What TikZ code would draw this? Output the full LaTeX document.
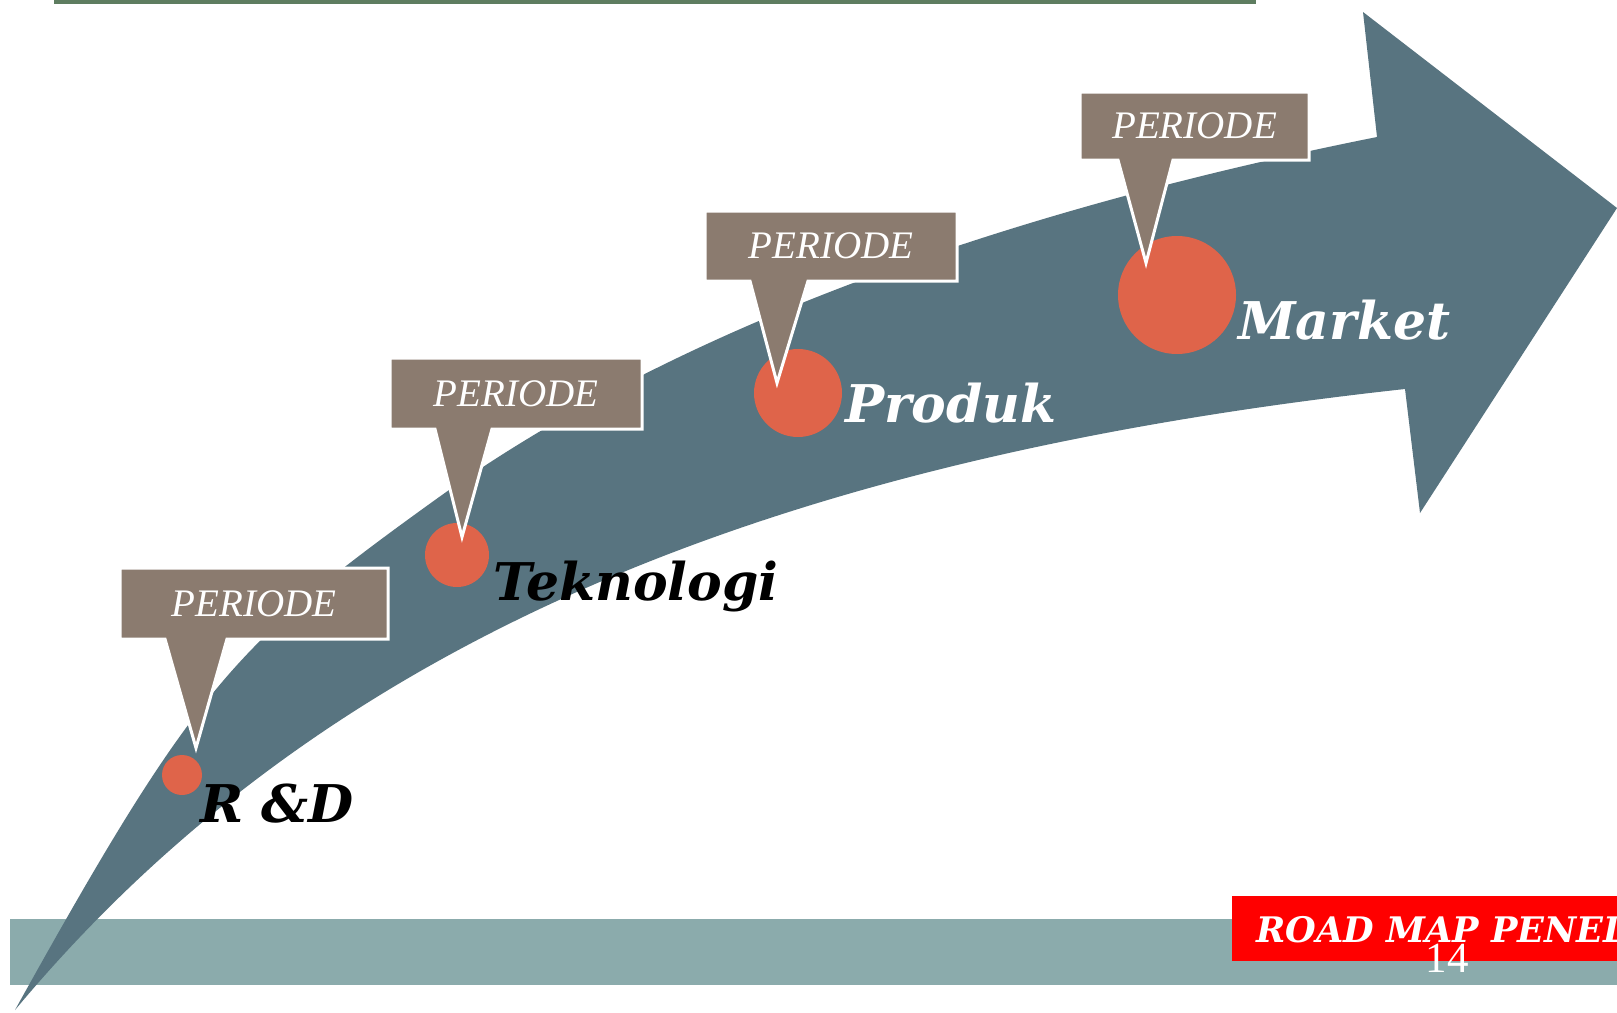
\documentclass[tikz,border=0pt]{standalone}
\usepackage{fontspec}
\setmainfont{Liberation Serif}
\newfontfamily\stagefont{DejaVu Serif}
\usepackage{xcolor}
\usepackage{tikz}

\definecolor{arrowblue}{RGB}{88,116,128}
\definecolor{periodbrown}{RGB}{139,123,111}
\definecolor{dotred}{RGB}{223,100,74}
\definecolor{bandgrey}{RGB}{139,171,172}
\definecolor{topgreen}{RGB}{94,125,96}

\tikzset{
	periodbox/.style={fill=periodbrown, draw=white, line width=1.5pt, line join=miter},
	periodtext/.style={text=white, inner sep=0pt, font=\fontsize{19.5}{22}\selectfont\itshape},
	stagedot/.style={circle, fill=dotred, inner sep=0pt},
	stagelabel/.style={anchor=base west, inner sep=0pt, font=\stagefont\bfseries\itshape\fontsize{26}{30}\selectfont},
}

\begin{document}
\begin{tikzpicture}[x=0.5pt,y=-0.5pt]
	\useasboundingbox (0,0) rectangle (1617,1012);
	\fill[white] (0,0) rectangle (1617,1012);
	
	% top rule and bottom band
	\fill[topgreen] (54,0) rectangle (1256,4);
	\fill[bandgrey] (10,919) rectangle (1617,985);
	
	% curved arrow
	\fill[arrowblue] (15,1010) .. controls (195,686) and (235,644) .. (435,500)
		.. controls (685,320) and (1027,207) .. (1377,137)
		-- (1363,12) -- (1617,208) -- (1420,513) -- (1405,389)
		.. controls (755,460) and (315,650) .. (15,1010) -- cycle;
	
	% stages
	\node[stagedot, minimum size=20pt] (dotrd) at (182,775) {};
	\node[stagedot, minimum size=32pt] (dottek) at (457,555) {};
	\node[stagedot, minimum size=44pt] (dotprod) at (798,393) {};
	\node[stagedot, minimum size=59pt] (dotmkt) at (1177,295) {};
	
	% callouts
	\draw[periodbox] (120,568) -- (388,568) -- (388,639) -- (227,639) -- (196,748) -- (165,639) -- (120,639) -- cycle;
	\node[periodtext] (perrd) at (254,603.5) {PERIODE};
	\draw[periodbox] (390,358) -- (642,358) -- (642,429) -- (492,429) -- (462,537) -- (435,429) -- (390,429) -- cycle;
	\node[periodtext] (pertek) at (516,393.5) {PERIODE};
	\draw[periodbox] (705,211) -- (957,211) -- (957,281) -- (808,281) -- (777,383) -- (750,281) -- (705,281) -- cycle;
	\node[periodtext] (perprod) at (831,246) {PERIODE};
	\draw[periodbox] (1080,92) -- (1309,92) -- (1309,160) -- (1173,160) -- (1146,263) -- (1118,160) -- (1080,160) -- cycle;
	\node[periodtext] (permkt) at (1194.5,126) {PERIODE};
	
	\node[stagelabel] (rd) at (200,822) {R \&D};
	\node[stagelabel] (tek) at (493,600) {Teknologi};
	\node[stagelabel, text=white] (prod) at (845,422) {Produk};
	\node[stagelabel, text=white] (mkt) at (1238,339) {Market};
	
	% footer
	\begin{scope}
		\clip (0,0) rectangle (1617,1012);
		\fill[red] (1232,896) rectangle (1617,961);
		\node[anchor=base west, inner sep=0pt, text=white, font=\stagefont\bfseries\itshape\fontsize{17.6}{20}\selectfont] (roadmap) at (1256,942) {ROAD MAP PENEL};
	\end{scope}
	\node[anchor=base, inner sep=0pt, text=white, font=\fontsize{21.5}{24}\selectfont] (page) at (1447,972) {14};
\end{tikzpicture}
\end{document}
